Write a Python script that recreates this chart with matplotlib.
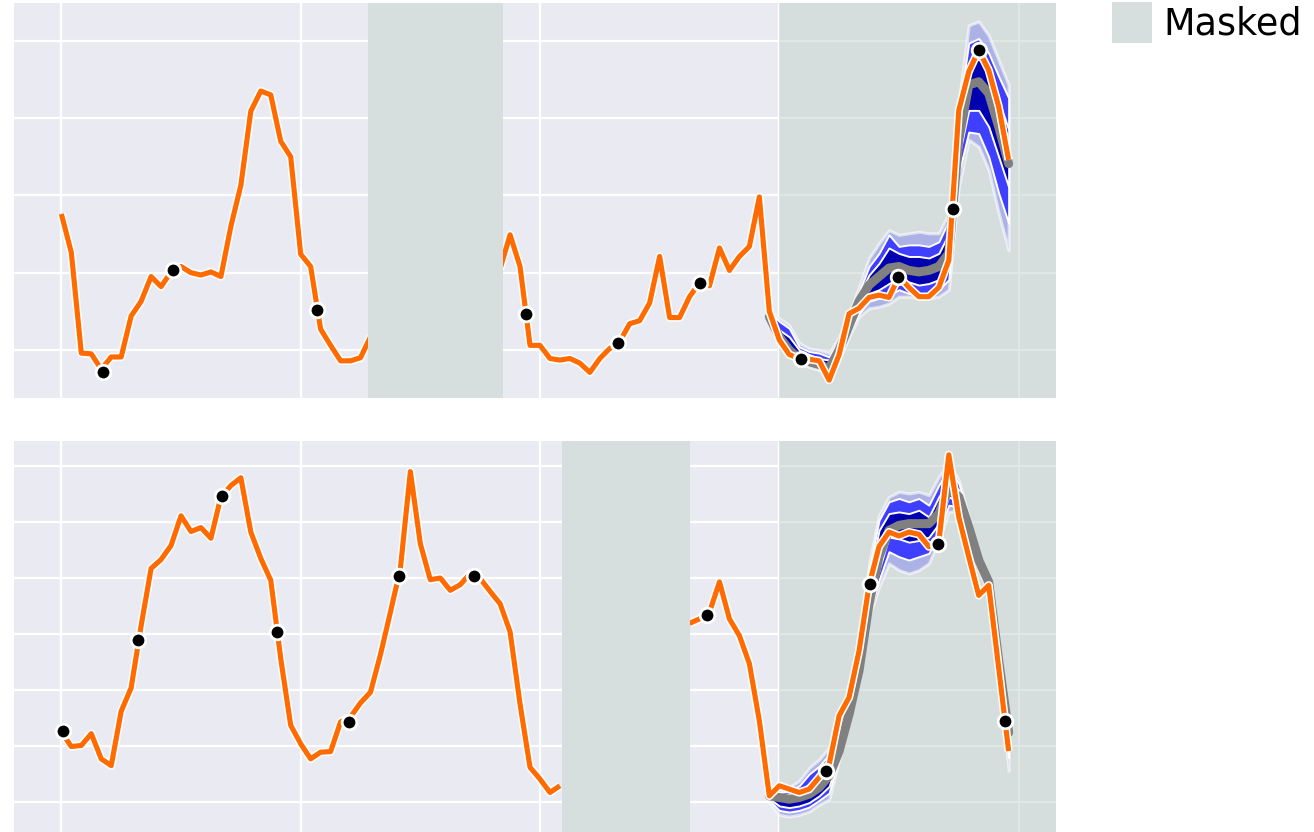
import numpy as np
import matplotlib
matplotlib.use("Agg")
import matplotlib.pyplot as plt
from matplotlib.patches import Patch
import matplotlib.patheffects as pe

nan = np.nan

# ---------------- data ----------------
x_ticks = [0, 24, 48, 72, 96]
forecast_start = 72
fc_steps = list(range(71, 96))

# top series (hidden under mask -> nan)
top_actual = [
    2.76, 2.26, 0.96, 0.95, 0.75, 0.91, 0.91, 1.44, 1.63, 1.95,
    1.82, 2.01, 2.08, 2.00, 1.97, 2.01, 1.95, 2.60, 3.13, 4.09,
    4.35, 4.30, 3.70, 3.50, 2.24, 2.08, 1.27, 1.06, 0.86, 0.86,
    0.90, 1.17, nan, nan, nan, nan, nan, nan, nan, nan,
    nan, nan, nan, nan, 2.05, 2.49, 2.08, 1.06, 1.06, 0.89,
    0.87, 0.89, 0.83, 0.71, 0.89, 1.02, 1.11, 1.34, 1.38, 1.61,
    2.21, 1.42, 1.42, 1.69, 1.87, 1.83, 2.32, 2.03, 2.21, 2.34,
    2.98, 1.50, 1.13, 0.94, 0.89, 0.88, 0.86, 0.61, 0.94, 1.47,
    1.54, 1.68, 1.71, 1.68, 1.95, 1.81, 1.69, 1.69, 1.81, 2.16,
    4.10, 4.60, 4.88, 4.62, 4.15, 3.46]
top_mask = (30.8, 44.3)
top_dots_x = [4.13, 11.23, 25.63, 46.57, 55.83, 64.0, 74.17, 83.93, 89.4, 92.0]
top_dots_y = [0.72, 2.03, 1.52, 1.47, 1.09, 1.87, 0.89, 1.95, 2.83, 4.88]

top_q95 = [1.52, 1.41, 1.32, 1.09, 1.02, 1.00, 0.96, 1.17, 1.47, 1.82, 2.19, 2.38, 2.55,
           2.49, 2.51, 2.53, 2.51, 2.51, 2.77, 4.23, 5.20, 5.25, 5.07, 4.75, 4.43]
top_q90 = [1.50, 1.37, 1.28, 1.04, 0.98, 0.96, 0.91, 1.13, 1.43, 1.75, 2.08, 2.25, 2.49,
           2.34, 2.36, 2.36, 2.34, 2.40, 2.68, 4.10, 4.97, 5.03, 4.84, 4.54, 4.26]
top_q75 = [1.47, 1.26, 1.17, 1.00, 0.94, 0.89, 0.87, 1.09, 1.39, 1.71, 1.97, 2.12, 2.32,
           2.25, 2.21, 2.21, 2.19, 2.25, 2.51, 3.93, 4.67, 4.77, 4.60, 4.23, 3.85]
top_q50 = [1.43, 1.17, 1.00, 0.89, 0.85, 0.81, 0.76, 1.00, 1.32, 1.63, 1.84, 1.95, 2.06,
           2.08, 2.03, 2.01, 2.03, 2.08, 2.25, 3.72, 4.43, 4.47, 4.32, 3.89, 3.41]
top_q25 = [1.41, 1.15, 0.98, 0.87, 0.83, 0.78, 0.74, 0.96, 1.26, 1.54, 1.73, 1.78, 1.86,
           1.93, 1.88, 1.84, 1.86, 1.91, 2.08, 3.50, 4.10, 4.10, 3.89, 3.50, 3.11]
top_q10 = [1.39, 1.13, 0.96, 0.85, 0.81, 0.76, 0.72, 0.91, 1.22, 1.47, 1.63, 1.67, 1.71,
           1.78, 1.73, 1.71, 1.73, 1.78, 1.91, 3.29, 3.82, 3.80, 3.50, 3.03, 2.64]
top_q05 = [1.37, 1.11, 0.94, 0.83, 0.78, 0.74, 0.70, 0.87, 1.17, 1.43, 1.54, 1.56, 1.60,
           1.69, 1.69, 1.67, 1.67, 1.69, 1.78, 3.11, 3.72, 3.63, 3.33, 2.77, 2.29]

# bottom series
bot_actual = [
    2.25, 1.99, 2.01, 2.22, 1.77, 1.65, 2.62, 3.04, 4.15, 5.17,
    5.33, 5.58, 6.11, 5.83, 5.90, 5.71, 6.45, 6.65, 6.79, 5.82,
    5.35, 4.96, 3.56, 2.37, 2.04, 1.77, 1.89, 1.90, 2.43, 2.52,
    2.77, 2.96, 3.63, 4.39, 5.17, 6.90, 5.61, 4.97, 5.00, 4.78,
    4.88, 5.08, 4.99, 4.76, 4.54, 4.04, 2.75, 1.62, 1.41, 1.17,
    1.29, nan, nan, nan, nan, nan, nan, nan, nan, nan,
    nan, nan, nan, 4.19, 4.27, 4.39, 4.93, 4.27, 3.97, 3.47,
    2.45, 1.11, 1.29, 1.23, 1.17, 1.23, 1.44, 1.67, 2.54, 2.87,
    3.70, 4.87, 5.56, 5.82, 5.75, 5.82, 5.78, 5.56, 5.64, 7.20,
    6.09, 5.38, 4.69, 4.87, 3.40, 1.91]
bot_mask = (50.2, 63.0)
bot_dots_x = [0.17, 7.67, 16.07, 21.67, 28.83, 33.83, 41.4, 64.73, 76.73, 81.07, 87.93, 94.67]
bot_dots_y = [2.27, 3.90, 6.46, 4.04, 2.43, 5.03, 5.03, 4.34, 1.56, 4.90, 5.61, 2.45]

bot_q95 = [1.17, 1.20, 1.26, 1.38, 1.61, 1.76, 1.97, 2.06, 2.72, 3.55, 5.26, 6.12, 6.45,
           6.54, 6.51, 6.54, 6.48, 6.81, 7.05, 6.75, 6.09, 5.44, 5.02, 3.61, 2.33]
bot_q90 = [1.14, 1.17, 1.20, 1.29, 1.50, 1.64, 1.85, 2.01, 2.67, 3.50, 5.14, 6.03, 6.36,
           6.42, 6.36, 6.42, 6.30, 6.66, 6.93, 6.69, 6.06, 5.41, 4.99, 3.59, 2.30]
bot_q75 = [1.13, 1.14, 1.14, 1.20, 1.32, 1.50, 1.73, 1.97, 2.62, 3.45, 4.96, 5.85, 6.15,
           6.18, 6.15, 6.21, 6.09, 6.45, 6.75, 6.57, 5.97, 5.35, 4.96, 3.56, 2.27]
bot_q50 = [1.11, 1.08, 1.05, 1.08, 1.14, 1.26, 1.47, 1.91, 2.57, 3.35, 4.54, 5.38, 5.85,
           5.94, 5.97, 5.97, 5.97, 6.15, 6.60, 6.45, 5.91, 5.32, 4.93, 3.53, 2.24]
bot_q25 = [1.06, 0.93, 0.90, 0.93, 0.99, 1.11, 1.28, 1.85, 2.52, 3.28, 4.48, 5.14, 5.73,
           5.70, 5.64, 5.67, 5.73, 5.97, 6.45, 6.36, 5.85, 5.26, 4.87, 3.47, 2.09]
bot_q10 = [1.03, 0.85, 0.82, 0.85, 0.91, 1.03, 1.16, 1.80, 2.47, 3.22, 4.39, 4.96, 5.47,
           5.38, 5.32, 5.38, 5.44, 5.79, 6.30, 6.27, 5.79, 5.20, 4.81, 3.41, 1.79]
bot_q05 = [1.00, 0.77, 0.74, 0.77, 0.83, 0.95, 1.05, 1.75, 2.42, 3.16, 4.30, 4.84, 5.26,
           5.14, 5.08, 5.14, 5.26, 5.67, 6.18, 6.21, 5.73, 5.14, 4.75, 3.35, 1.56]

legend_label = "Masked"

# ---------------- style ----------------
BG = "#EAEAF2"
MASK = "#D7DFDE"
FC_SPAN = "#C4D4CC"
ORANGE = "#FF6B00"
XLIM = (-4.75, 99.75)

fig = plt.figure(figsize=(13.14, 8.32), dpi=100)
W, H = 1314.0, 832.0
ax_top = fig.add_axes([14 / W, (H - 398) / H, 1042 / W, 395 / H])
ax_bot = fig.add_axes([14 / W, (H - 836) / H, 1042 / W, 395 / H])


def draw_panel(ax, actual, dots_x, dots_y, mask, q, ylim, yticks):
    ax.set_facecolor(BG)
    for s in ax.spines.values():
        s.set_visible(False)
    ax.set_axisbelow(True)
    ax.grid(True, color="white", linewidth=1.6)
    ax.set_xticks(x_ticks)
    ax.set_yticks(yticks)
    ax.tick_params(length=0, labelbottom=False, labelleft=False)
    ax.set_xlim(*XLIM)
    ax.set_ylim(*ylim)

    # forecast region
    ax.axvspan(forecast_start, XLIM[1], facecolor=FC_SPAN, alpha=0.55, lw=0, zorder=1)

    q05, q10, q25, q50, q75, q90, q95 = q
    ax.fill_between(fc_steps, q05, q95, facecolor=(0.25, 0.25, 1.0, 0.27),
                    edgecolor=(1, 1, 1, 0.6), linewidth=2.2, zorder=1.5)
    ax.fill_between(fc_steps, q10, q90, facecolor="#3F3FFF",
                    edgecolor="white", linewidth=1.4, zorder=1.6)
    ax.fill_between(fc_steps, q25, q75, facecolor="#0000B0",
                    edgecolor="white", linewidth=1.4, zorder=1.7)
    ax.plot(fc_steps, q50, color="#808080", lw=6.5, solid_capstyle="round",
            solid_joinstyle="round", zorder=2.0)

    steps = np.arange(len(actual))
    ax.plot(steps, actual, color=ORANGE, lw=3.7, solid_joinstyle="round",
            solid_capstyle="butt", zorder=2.5,
            path_effects=[pe.Stroke(linewidth=6.0, foreground="white"), pe.Normal()])

    ax.axvspan(mask[0], mask[1], facecolor=MASK, lw=0, zorder=3)

    ax.plot(dots_x, dots_y, ls="none", marker="o", ms=10.5, mfc="black",
            mec="white", mew=2.0, zorder=4)


draw_panel(ax_top, top_actual, top_dots_x, top_dots_y, top_mask,
           (top_q05, top_q10, top_q25, top_q50, top_q75, top_q90, top_q95),
           (0.379, 5.489), [1, 2, 3, 4, 5])
draw_panel(ax_bot, bot_actual, bot_dots_x, bot_dots_y, bot_mask,
           (bot_q05, bot_q10, bot_q25, bot_q50, bot_q75, bot_q90, bot_q95),
           (0.393, 7.446), [1, 2, 3, 4, 5, 6, 7])

fs = 26.3
fig.legend(handles=[Patch(facecolor=MASK, edgecolor="none", label=legend_label)],
           loc="upper left", bbox_to_anchor=(1112 / W, 1 - 2 / H),
           frameon=False, borderpad=0, borderaxespad=0,
           handlelength=1.09, handleheight=1.37, handletextpad=0.32,
           prop={"family": "DejaVu Sans", "size": fs})

fig.savefig("out.png", dpi=100)
